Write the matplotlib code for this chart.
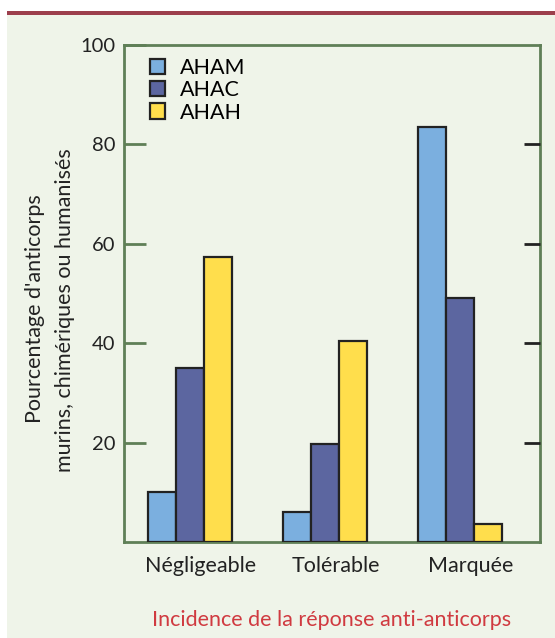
import matplotlib
matplotlib.use("Agg")
import matplotlib.pyplot as plt
from matplotlib.patches import Rectangle, Patch
import numpy as np

categories = ["Négligeable", "Tolérable", "Marquée"]
series_names = ["AHAM", "AHAC", "AHAH"]
aham = [10, 6, 83.5]
ahac = [35, 19.8, 49]
ahah = [57.3, 40.4, 3.6]
yticks = [20, 40, 60, 80, 100]
right_ticks = [20, 40, 60, 80]

colors = ["#7BAFDF", "#5C66A0", "#FFDE4C"]
bg = "#EFF4E9"
green = "#5F7F57"
dark = "#222222"

plt.rcParams['font.family'] = ['Lato', 'DejaVu Sans']
fs = 15.5

W, H = 555, 638
fig = plt.figure(figsize=(W / 100, H / 100), dpi=100, facecolor="white")
fig.patches.append(Rectangle((7 / W, 0), 1 - 7 / W, 1 - 15 / H, transform=fig.transFigure,
                             facecolor=bg, edgecolor="none", zorder=-10))
fig.patches.append(Rectangle((7 / W, 1 - 15 / H), 1 - 7 / W, 4 / H, transform=fig.transFigure,
                             facecolor="#9C3F4C", edgecolor="none", zorder=-9))

ax = fig.add_axes([124 / W, 1 - 542 / H, 416 / W, 497 / H])
ax.set_facecolor("none")

x = np.arange(len(categories))
w = 0.207
for i, (vals, name) in enumerate(zip([aham, ahac, ahah], series_names)):
    ax.bar(x + (i - 1) * w, vals, width=w, color=colors[i], edgecolor=dark,
           linewidth=1.6, label=name, zorder=3)

ax.set_xlim(-0.489, 2.593)
ax.set_ylim(0, 100)
ax.set_yticks(yticks)
ax.set_yticklabels([str(v) for v in yticks], fontsize=14.5, color=dark)
ax.set_xticks(x + 0.08)
ax.set_xticklabels(categories, fontsize=fs, color=dark)
ax.tick_params(axis="x", length=0, pad=10)
ax.tick_params(axis="y", direction="in", length=16, width=2, color=green, left=True,
               right=False, pad=6)

ax2 = ax.twinx()
ax2.set_ylim(0, 100)
ax2.set_yticks(right_ticks)
ax2.set_yticklabels([])
ax2.tick_params(axis="y", direction="in", length=11.5, width=2, color=dark)
for s in ax2.spines.values():
    s.set_visible(False)

for s in ax.spines.values():
    s.set_color(green)
    s.set_linewidth(2)

handles = [Patch(facecolor=c, edgecolor=dark, linewidth=1.6) for c in colors]
ax.legend(handles, series_names, loc="upper left", bbox_to_anchor=(0.02, 1.008), frameon=False,
          fontsize=fs, handlelength=0.7, handleheight=0.7, handletextpad=0.7, labelspacing=0.1,
          borderpad=0.3)

fig.text(332 / W, 1 - 620 / H, "Incidence de la réponse anti-anticorps", color="#D03A40",
         fontsize=fs, ha="center", va="center")
fig.text(35 / W, 1 - 309 / H, "Pourcentage d'anticorps", rotation=90, fontsize=fs,
         color=dark, ha="center", va="center")
fig.text(65 / W, 1 - 310 / H, "murins, chimériques ou humanisés", rotation=90, fontsize=fs,
         color=dark, ha="center", va="center")

fig.savefig("out.png", dpi=100, facecolor="white")
